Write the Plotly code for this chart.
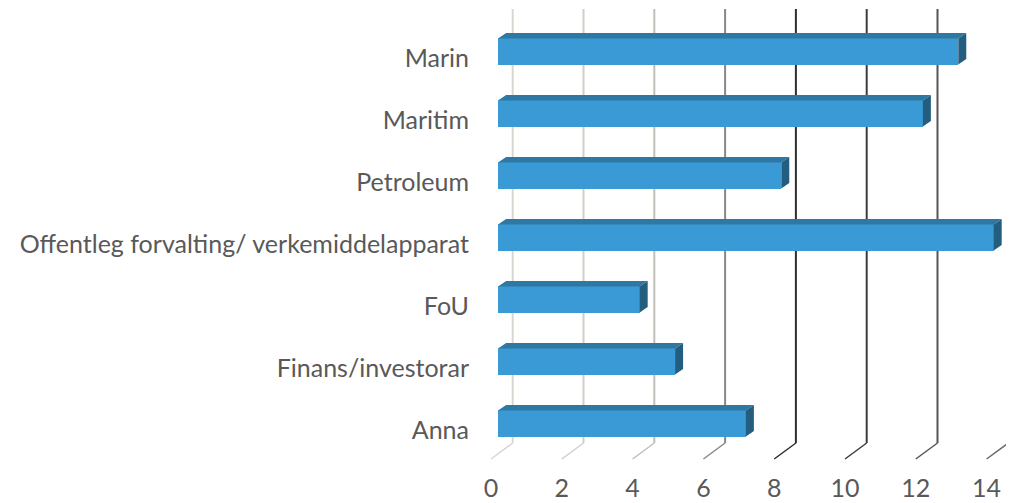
import plotly.graph_objects as go

categories = ["Marin", "Maritim", "Petroleum", "Offentleg forvalting/ verkemiddelapparat",
              "FoU", "Finans/investorar", "Anna"]
values = [13, 12, 8, 14, 4, 5, 7]
x_ticks = [0, 2, 4, 6, 8, 10, 12, 14]
grid_colors = ["#dad7d1", "#d2cec8", "#c2beb8", "#8a8784", "#2e2e2e", "#3c3c3c", "#555555", "#6a6a6a"]

# geometry (in data units)
n = len(categories)
ypos = [n - 1 - i for i in range(n)]          # Marin at top
front_base = 0.2
bar_h = 0.42
bar_lift = 0.105
dxs, dys = 0.226, 0.089
back_dx = 0.613
floor_back_y, floor_front_y, wall_top_y = -0.21, -0.468, 6.79

FRONT = "#3A9AD5"
TOP = "#2E78A3"
SIDE = "#235E7E"

fig = go.Figure()

shapes = []
for v, c in zip(x_ticks, grid_colors):
    shapes.append(dict(type="line", xref="x", yref="y", x0=v + back_dx, x1=v + back_dx,
                       y0=floor_back_y, y1=wall_top_y, line=dict(color=c, width=2), layer="below"))
    shapes.append(dict(type="line", xref="x", yref="y", x0=v + back_dx, x1=v,
                       y0=floor_back_y, y1=floor_front_y, line=dict(color=c, width=1.5), layer="below"))

fig.add_trace(go.Bar(
    y=[y + bar_lift for y in ypos], x=values, base=front_base, orientation="h",
    width=bar_h, marker=dict(color=FRONT, line=dict(width=0)), showlegend=False,
    hoverinfo="skip"))

for y, v in zip(ypos, values):
    yc = y + bar_lift
    yt, yb = yc + bar_h / 2, yc - bar_h / 2
    xe = front_base + v
    fig.add_trace(go.Scatter(
        x=[front_base, xe, xe + dxs, front_base + dxs, front_base],
        y=[yt, yt, yt + dys, yt + dys, yt],
        fill="toself", fillcolor=TOP, mode="lines", line=dict(width=0, color=TOP),
        showlegend=False, hoverinfo="skip"))
    fig.add_trace(go.Scatter(
        x=[xe, xe, xe + dxs, xe + dxs, xe],
        y=[yt, yb, yb + dys, yt + dys, yt],
        fill="toself", fillcolor=SIDE, mode="lines", line=dict(width=0, color=SIDE),
        showlegend=False, hoverinfo="skip"))

# page has an 8px body margin: compensate
OFF = 8
W, H = 1014 - OFF, 503 - OFF
px_per_x = 35.4
left_px, right_px = 470 - OFF, W
x0_px = 491 - OFF
x_min = (left_px - x0_px) / px_per_x
x_max = (right_px - x0_px) / px_per_x
px_per_y = 62
y0_px = 430 - OFF
top_px, bot_px = 0, 463 - OFF
y_max = (y0_px - top_px) / px_per_y
y_min = (y0_px - bot_px) / px_per_y

FONT = "Lato"
fig.update_layout(
    template="none",
    width=W, height=H,
    margin=dict(l=left_px, r=W - right_px, t=top_px, b=H - bot_px, pad=0),
    plot_bgcolor="white", paper_bgcolor="white",
    shapes=shapes,
    font=dict(family=FONT, color="#595959", size=25),
    xaxis=dict(range=[x_min, x_max], tickvals=x_ticks, ticktext=[str(t) for t in x_ticks],
               showgrid=False, zeroline=False, showline=False, automargin=False,
               ticks="outside", ticklen=3, tickcolor="rgba(0,0,0,0)",
               tickfont=dict(size=25, family=FONT, color="#595959")),
    yaxis=dict(range=[y_min, y_max], tickvals=ypos, ticktext=categories,
               showgrid=False, zeroline=False, showline=False, automargin=False,
               ticks="", tickfont=dict(size=25, family=FONT, color="#595959")),
    bargap=0,
)

fig.write_html("out.html")
